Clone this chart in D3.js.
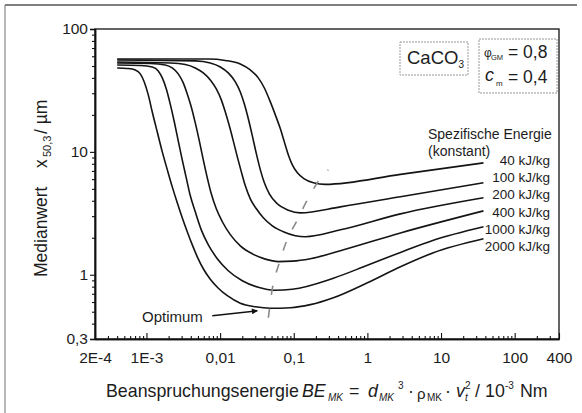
<!DOCTYPE html>
<meta charset="utf-8">
<script src="https://d3js.org/d3.v7.min.js"></script>
<style>
  body { margin: 0; background: #fff; }
  text { font-family: "Liberation Sans", Arial, sans-serif; fill: #1c1c1c; }
</style>
<div id="chart"></div>
<script>

// axis ticks
var xTicks = [2e-4, 1e-3, 0.01, 0.1, 1, 10, 100, 400];
var xTickLabels = ["2E-4", "1E-3", "0,01", "0,1", "1", "10", "100", "400"];
var yTicks = [0.3, 1, 10, 100];
var yTickLabels = ["0,3", "1", "10", "100"];

// specific energy of each curve
var energies = ["40 kJ/kg", "100 kJ/kg", "200 kJ/kg", "400 kJ/kg", "1000 kJ/kg", "2000 kJ/kg"];

// stress energy BE (10^-3 Nm) and median x50,3 (µm)
var be40 = [4.0e-4, 6.92e-3, 0.01177, 0.0188, 0.0257, 0.0330, 0.0399, 0.0481, 0.0562, 0.0658, 0.0745, 0.0845, 0.0957, 0.112, 0.139, 0.185, 0.269, 2.81, 37.7];
var x40  = [57.0, 57.0, 55.5, 51.9, 46.4, 40.0, 33.1, 25.5, 20.0, 15.4, 12.06, 9.45, 7.84, 6.75, 6.03, 5.60, 5.44, 6.56, 8.14];

var be100 = [4.0e-4, 4.60e-3, 7.36e-3, 0.01007, 0.0129, 0.0161, 0.0188, 0.0213, 0.0242, 0.0274, 0.0311, 0.0352, 0.0399, 0.0466, 0.0598, 0.0845, 0.123, 0.430, 2.81, 37.7];
var x100  = [56.0, 55.0, 52.9, 49.1, 43.9, 37.1, 30.7, 24.6, 18.5, 13.5, 9.63, 7.14, 5.60, 4.56, 3.78, 3.35, 3.19, 3.57, 4.31, 5.60];

var be200 = [4.0e-4, 2.10e-3, 3.37e-3, 4.60e-3, 5.91e-3, 7.36e-3, 8.88e-3, 0.01038, 0.01177, 0.01334, 0.0151, 0.01713, 0.01941, 0.0220, 0.0257, 0.0311, 0.0386, 0.0512, 0.0722, 0.1051, 0.1438, 0.430, 2.81, 37.7];
var x200  = [53.9, 52.9, 51.4, 48.2, 43.9, 38.5, 32.5, 26.5, 21.1, 16.3, 12.3, 9.11, 6.88, 5.29, 4.15, 3.44, 2.91, 2.50, 2.24, 2.08, 2.04, 2.32, 3.13, 4.23];

var be400 = [4.0e-4, 1.127e-3, 1.80e-3, 2.24e-3, 2.70e-3, 3.16e-3, 3.58e-3, 4.06e-3, 4.60e-3, 5.22e-3, 5.91e-3, 6.70e-3, 7.59e-3, 8.88e-3, 0.01072, 0.01376, 0.0188, 0.0274, 0.0411, 0.0618, 0.0957, 0.168, 0.430, 2.81, 37.7];
var x400  = [52.9, 52.4, 51.0, 48.2, 43.1, 36.4, 29.6, 23.2, 17.2, 12.3, 8.61, 6.15, 4.56, 3.44, 2.70, 2.12, 1.72, 1.48, 1.34, 1.28, 1.29, 1.35, 1.57, 2.19, 3.31];

var be1000 = [4.0e-4, 8.24e-4, 1.199e-3, 1.446e-3, 1.64e-3, 1.86e-3, 2.10e-3, 2.39e-3, 2.70e-3, 3.06e-3, 3.47e-3, 3.94e-3, 4.60e-3, 5.55e-3, 6.92e-3, 9.16e-3, 0.0129, 0.0200, 0.0330, 0.0545, 0.0957, 0.345, 1, 2.81, 7.88, 37.7];
var x1000  = [51.0, 50.5, 49.1, 45.6, 40.0, 32.5, 24.6, 17.5, 12.3, 8.61, 6.15, 4.39, 3.25, 2.32, 1.75, 1.35, 1.078, 0.894, 0.791, 0.748, 0.762, 0.937, 1.195, 1.52, 1.91, 2.46];

var be2000 = [4.0e-4, 5.66e-4, 7.05e-4, 8.24e-4, 9.33e-4, 1.058e-3, 1.199e-3, 1.402e-3, 1.64e-3, 1.92e-3, 2.24e-3, 2.62e-3, 3.06e-3, 3.58e-3, 4.19e-3, 4.90e-3, 5.91e-3, 7.36e-3, 9.46e-3, 0.01253, 0.0188, 0.0301, 0.0481, 0.0899, 0.168, 0.345, 1, 2.81, 7.88, 37.7];
var x2000  = [48.2, 47.7, 46.4, 43.1, 37.1, 29.1, 21.1, 14.5, 10.0, 7.14, 5.19, 3.85, 2.91, 2.24, 1.75, 1.40, 1.119, 0.919, 0.777, 0.675, 0.587, 0.549, 0.534, 0.539, 0.571, 0.650, 0.861, 1.162, 1.51, 1.96];

// dashed line through the optimum of each curve
var optBE = [0.0452, 0.0512, 0.0618, 0.0793, 0.112, 0.158, 0.245, 0.295];
var optX  = [0.447, 0.770, 1.184, 1.85, 2.80, 4.23, 6.38, 7.14];

// "Optimum" arrow
var arrowBE = [7.83e-3, 0.032];
var arrowX  = [0.464, 0.509];

var seriesBE = [be40, be100, be200, be400, be1000, be2000];
var seriesX  = [x40, x100, x200, x400, x1000, x2000];

var svg = d3.select("#chart").append("svg")
    .attr("width", 582)
    .attr("height", 413);

// frame of the scanned page
svg.append("line").attr("x1", 5).attr("y1", 5).attr("x2", 577).attr("y2", 5)
    .style("stroke", "#555").style("stroke-width", 1.5);
svg.append("line").attr("x1", 5).attr("y1", 5).attr("x2", 5).attr("y2", 413)
    .style("stroke", "#888").style("stroke-width", 1.2);

var x = d3.scaleLog().domain([2e-4, 400]).range([95, 559]);
var y = d3.scaleLog().domain([0.3, 100]).range([339, 29]);

// plot box
svg.append("rect")
    .attr("x", x.range()[0]).attr("y", y.range()[1])
    .attr("width", x.range()[1] - x.range()[0])
    .attr("height", y.range()[0] - y.range()[1])
    .style("fill", "none").style("stroke", "#111").style("stroke-width", 1.3);

// minor ticks
var xMinor = x.ticks().filter(function(d) { return xTicks.indexOf(d) < 0; });
var yMinor = y.ticks().filter(function(d) { return yTicks.indexOf(d) < 0; });

svg.append("g").attr("transform", "translate(0,339)")
    .call(d3.axisBottom(x).tickValues(xMinor).tickFormat("").tickSizeInner(-3).tickSizeOuter(0));
svg.append("g").attr("transform", "translate(95,0)")
    .call(d3.axisLeft(y).tickValues(yMinor).tickFormat("").tickSizeInner(3).tickSizeOuter(0));

// major ticks
var gx = svg.append("g").attr("transform", "translate(0,339)")
    .call(d3.axisBottom(x).tickValues(xTicks)
      .tickFormat(function(d, i) { return xTickLabels[i]; })
      .tickSizeInner(-6).tickSizeOuter(0).tickPadding(13));
var gy = svg.append("g").attr("transform", "translate(95,0)")
    .call(d3.axisLeft(y).tickValues(yTicks)
      .tickFormat(function(d, i) { return yTickLabels[i]; })
      .tickSize(5).tickPadding(2));

svg.selectAll(".tick text").style("font-size", "15.5px").style("font-family", "Liberation Sans, Arial, sans-serif").style("fill", "#1c1c1c");
svg.selectAll(".domain").style("stroke", "#111").style("stroke-width", 1.5);
svg.selectAll(".tick line").style("stroke", "#111").style("stroke-width", 1.1);

// curves
var line = d3.line()
    .x(function(d) { return x(d[0]); })
    .y(function(d) { return y(d[1]); })
    .curve(d3.curveMonotoneX);

seriesBE.forEach(function(be, k) {
  var pts = be.map(function(v, i) { return [v, seriesX[k][i]]; });
  svg.append("path")
      .datum(pts)
      .attr("d", line)
      .style("fill", "none")
      .style("stroke", "#141414")
      .style("stroke-width", 1.6);
});

// optimum line
svg.append("path")
    .datum(optBE.map(function(v, i) { return [v, optX[i]]; }))
    .attr("d", line)
    .style("fill", "none")
    .style("stroke", "#8a8a8a")
    .style("stroke-width", 1.6)
    .style("stroke-dasharray", "9,14");

// arrow
svg.append("defs").append("marker")
    .attr("id", "arr").attr("viewBox", "0 0 10 10")
    .attr("refX", 9).attr("refY", 5)
    .attr("markerWidth", 10).attr("markerHeight", 6)
    .attr("markerUnits", "userSpaceOnUse")
    .attr("orient", "auto")
  .append("path").attr("d", "M0,0 L10,5 L0,10 z").style("fill", "#111");

svg.append("line")
    .attr("x1", x(arrowBE[0])).attr("y1", y(arrowX[0]))
    .attr("x2", x(arrowBE[1])).attr("y2", y(arrowX[1]))
    .style("stroke", "#111").style("stroke-width", 1.4)
    .attr("marker-end", "url(#arr)");

svg.append("text").attr("x", 142).attr("y", 322).text("Optimum").style("font-size", "15px");

// curve labels
svg.append("text").attr("x", 428).attr("y", 139).text("Spezifische Energie").style("font-size", "14px");
svg.append("text").attr("x", 428).attr("y", 156).text("(konstant)").style("font-size", "14px");
energies.forEach(function(e, i) {
  svg.append("text")
      .attr("x", 550).attr("y", 165 + i * 17.2)
      .attr("text-anchor", "end")
      .text(e)
      .style("font-size", "13.5px");
});

// material box
svg.append("rect").attr("x", 400).attr("y", 42).attr("width", 68).attr("height", 33)
    .style("fill", "none").style("stroke", "#999").style("stroke-width", 1)
    .style("stroke-dasharray", "2,1");
var caco = svg.append("text").attr("x", 407).attr("y", 64).style("font-size", "18.5px");
caco.append("tspan").text("CaCO");
caco.append("tspan").attr("dy", 4).style("font-size", "10px").text("3");

// parameter box
svg.append("rect").attr("x", 479).attr("y", 39).attr("width", 78).attr("height", 54)
    .style("fill", "none").style("stroke", "#999").style("stroke-width", 1)
    .style("stroke-dasharray", "2,1");
function piece(px, py, str, size, italic) {
  var t = svg.append("text").attr("x", px).attr("y", py).text(str).style("font-size", size + "px");
  if (italic) t.style("font-style", "italic");
  return t;
}
piece(484, 57, "\u03c6", 12, false);
piece(491, 60, "GM", 7.5, false);
piece(508, 58, "= 0,8", 17.5, false);
piece(485, 81, "c", 18, true);
piece(496, 86, "m", 8, false);
piece(508, 83, "= 0,4", 17.5, false);

// x axis title
piece(106, 397, "Beanspruchungsenergie", 17.8, false);
piece(302, 397, "BE", 17.8, true);
piece(328, 401, "MK", 10, true);
piece(349, 397, "=", 17.8, false);
piece(368, 397, "d", 17.8, true);
piece(379, 401, "MK", 10, true);
piece(398, 389, "3", 10, false);
piece(408, 397, "\u00b7", 17.8, false);
piece(417, 399, "\u03c1", 15, false);
piece(427, 401, "MK", 10, false);
piece(445, 397, "\u00b7", 17.8, false);
piece(456, 397, "v", 17.8, true);
piece(465, 401, "t", 10, true);
piece(465, 389, "2", 10, false);
piece(475, 397, "/", 17.8, false);
piece(485, 397, "10", 17.8, false);
piece(505, 389, "-3", 10, false);
piece(520, 397, "Nm", 17.8, false);

// y axis title
var gt = svg.append("g").attr("transform", "translate(47,0) rotate(-90)");
gt.append("text").attr("x", -277).attr("y", 0).text("Medianwert").style("font-size", "17.5px");
gt.append("text").attr("x", -168).attr("y", 0).text("x").style("font-size", "17.5px");
gt.append("text").attr("x", -157).attr("y", 4).text("50,3").style("font-size", "11px");
gt.append("text").attr("x", -134).attr("y", 0).text("/ \u00b5m").style("font-size", "17.5px");

</script>
